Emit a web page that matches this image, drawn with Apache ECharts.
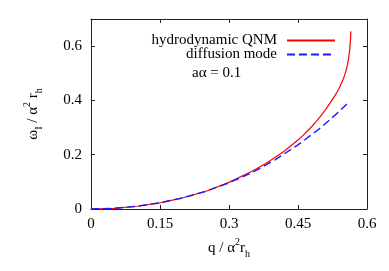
<!DOCTYPE html>
<html><head><meta charset="utf-8">
<script src="https://cdn.jsdelivr.net/npm/echarts@6/dist/echarts.min.js"></script>
<style>html,body{margin:0;padding:0;background:#fff}#c{width:389px;height:271px}</style>
</head><body><div id="c"></div>
<script>
// hydrodynamic QNM (red, solid)
const qnmQ = [0, 0.05, 0.1, 0.15, 0.2, 0.25, 0.3, 0.35, 0.38, 0.42, 0.45, 0.46, 0.48, 0.49, 0.5, 0.51, 0.52, 0.528, 0.535, 0.54, 0.545, 0.549, 0.552, 0.555, 0.557, 0.559, 0.561, 0.5625, 0.5635, 0.5642, 0.5648];
const qnmW = [0, 0.0025, 0.0101, 0.0229, 0.0413, 0.0655, 0.098, 0.139, 0.168, 0.213, 0.254, 0.2695, 0.304, 0.323, 0.344, 0.366, 0.391, 0.412, 0.431, 0.4465, 0.465, 0.482, 0.496, 0.513, 0.528, 0.545, 0.568, 0.589, 0.610, 0.628, 0.655];
// diffusion mode (blue, dashed)
const difQ = [0, 0.05, 0.1, 0.15, 0.2, 0.25, 0.3, 0.35, 0.4, 0.45, 0.5, 0.54, 0.562];
const difW = [0, 0.0025, 0.0101, 0.0229, 0.0413, 0.0652, 0.0965, 0.1337, 0.1811, 0.2362, 0.300, 0.360, 0.396];
// axis ticks
const xTicks = [0, 0.15, 0.3, 0.45, 0.6];
const yTicks = [0, 0.2, 0.4, 0.6];
const yMax = 0.7;
const seriesNames = ['hydrodynamic QNM', 'diffusion mode'];
const paramLabel = 'aα = 0.1';

const FONT = 'Liberation Serif';
const zip = (a, b) => a.map((v, i) => [v, b[i]]);
const axisCommon = {
  axisLine: {show: true, onZero: false, lineStyle: {color: '#222', width: 1}},
  axisTick: {show: true, inside: true, length: 4, lineStyle: {color: '#222'}},
  splitLine: {show: false}
};
const nameRich = {
  t: {fontFamily: FONT, fontSize: 15, color: '#000', lineHeight: 22},
  sup: {fontFamily: FONT, fontSize: 10, color: '#000', lineHeight: 12, verticalAlign: 'top'},
  sub: {fontFamily: FONT, fontSize: 10, color: '#000', lineHeight: 12, verticalAlign: 'bottom'}
};
const legendCommon = {
  right: 53, align: 'right', orient: 'vertical',
  itemWidth: 48, itemHeight: 14, padding: 0,
  itemStyle: {opacity: 0},
  textStyle: {fontFamily: FONT, fontSize: 15, color: '#000', padding: [0, 5, 0, 0]},
  selectedMode: false
};
const chart = echarts.init(document.getElementById('c'), null, {renderer: 'canvas'});
chart.setOption({
  animation: false,
  backgroundColor: '#fff',
  grid: {left: 91, right: 22, top: 19, bottom: 62},
  xAxis: [
    Object.assign({}, axisCommon, {
      type: 'value', position: 'bottom',
      min: xTicks[0], max: xTicks[xTicks.length - 1], interval: xTicks[1] - xTicks[0],
      axisLabel: {fontFamily: FONT, fontSize: 15, color: '#000', margin: 8},
      name: '{t|q / α}{sup|2}{t|r}{sub|h}',
      nameLocation: 'middle', nameGap: 23,
      nameTextStyle: {rich: nameRich}
    }),
    Object.assign({}, axisCommon, {
      type: 'value', position: 'top',
      min: xTicks[0], max: xTicks[xTicks.length - 1], interval: xTicks[1] - xTicks[0],
      axisLabel: {show: false}
    })
  ],
  yAxis: [
    Object.assign({}, axisCommon, {
      type: 'value', position: 'left',
      min: yTicks[0], max: yMax, interval: yTicks[1] - yTicks[0],
      axisLabel: {fontFamily: FONT, fontSize: 15, color: '#000', margin: 9, showMaxLabel: false},
      name: '{t|ω}{sub|I}{t| / α}{sup|2}{t| r}{sub|h}',
      nameLocation: 'middle', nameGap: 47, nameRotate: 90,
      nameTextStyle: {rich: nameRich}
    }),
    Object.assign({}, axisCommon, {
      type: 'value', position: 'right',
      min: yTicks[0], max: yMax, interval: yTicks[1] - yTicks[0],
      axisLabel: {show: false}
    })
  ],
  legend: [
    Object.assign({}, legendCommon, {data: [seriesNames[0]], top: 33}),
    Object.assign({}, legendCommon, {data: [seriesNames[1]], top: 47})
  ],
  graphic: [{
    type: 'text', left: 192, top: 66,
    style: {text: paramLabel, font: '15px "Liberation Serif"', fill: '#000'}
  }],
  series: [
    {
      name: seriesNames[0], type: 'line', data: zip(qnmQ, qnmW),
      symbol: 'none', smooth: false,
      lineStyle: {color: '#ff0000', width: 1.2}, itemStyle: {color: '#ff0000'}
    },
    {
      name: seriesNames[1], type: 'line', data: zip(difQ, difW),
      symbol: 'none', smooth: false,
      lineStyle: {color: '#1a1aff', width: 1.4, type: [8, 4]}, itemStyle: {color: '#1a1aff'}
    }
  ]
});
</script>
</body></html>
